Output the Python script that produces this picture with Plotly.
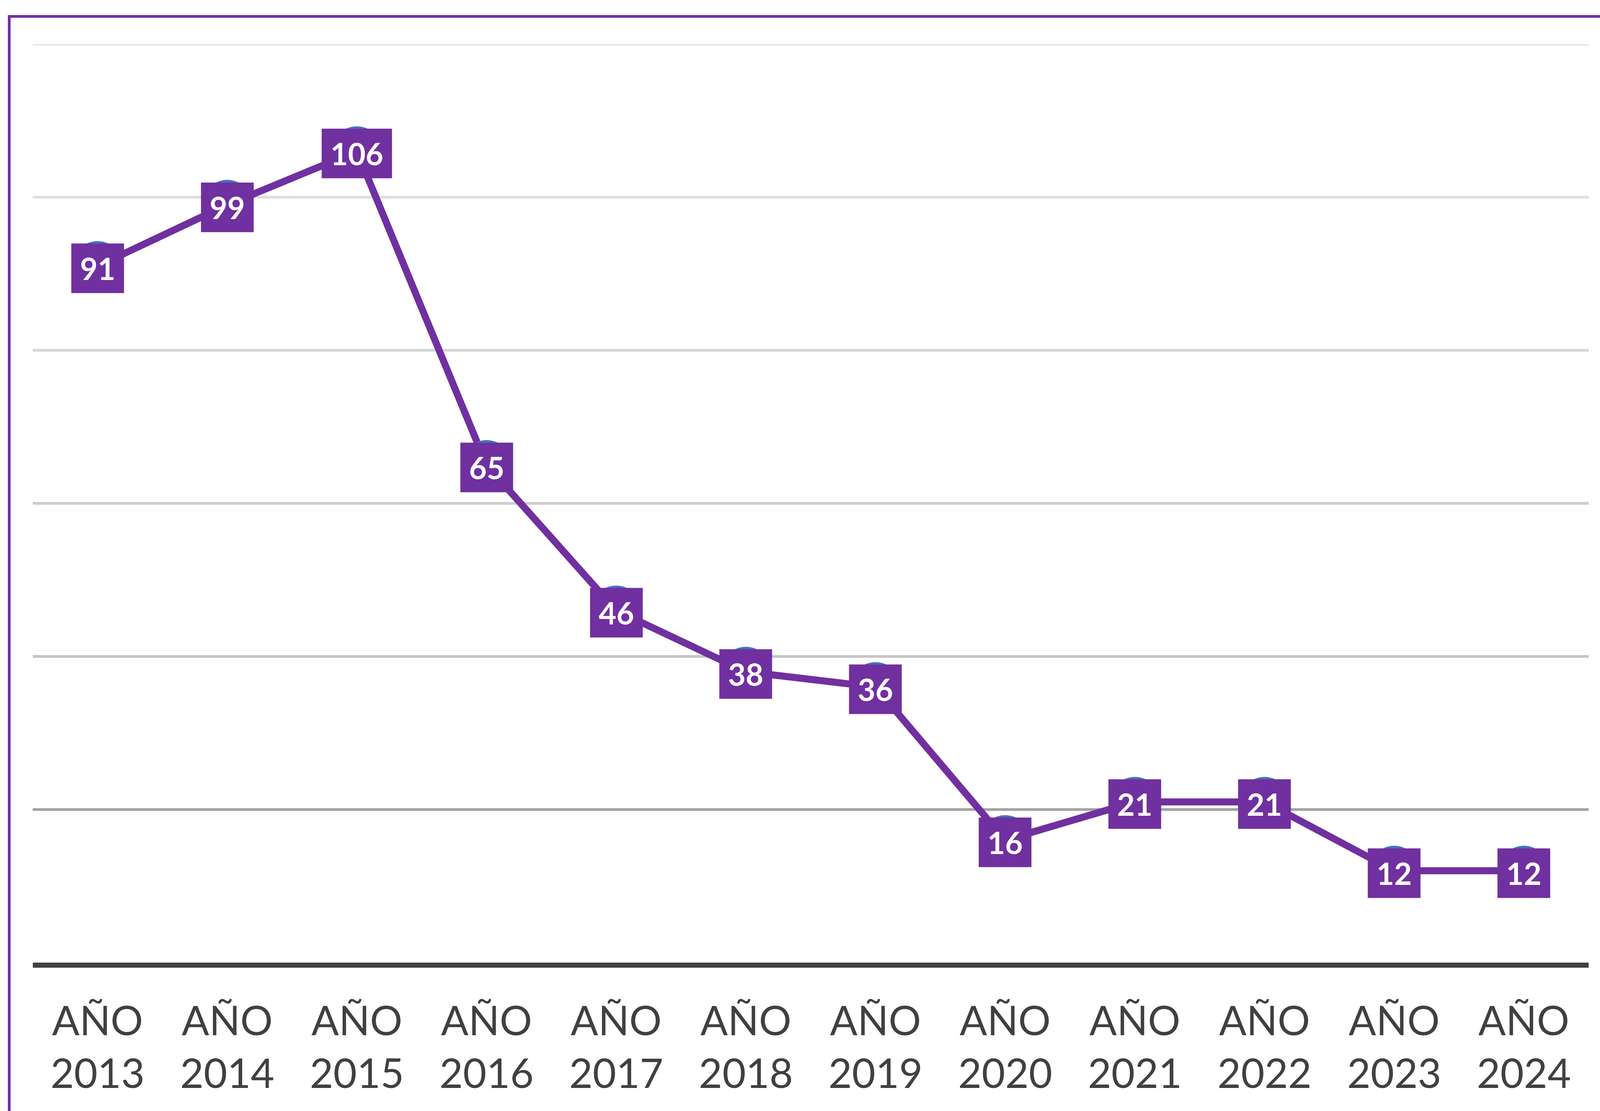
import plotly.graph_objects as go

years = ["2013", "2014", "2015", "2016", "2017", "2018", "2019", "2020", "2021", "2022", "2023", "2024"]
values = [91, 99, 106, 65, 46, 38, 36, 16, 21, 21, 12, 12]
categories = ["AÑO<br>" + y for y in years]
grid_values = [20, 40, 60, 80, 100, 120]
grid_colors = ["#a3a3a3", "#c4c4c4", "#cdcdcd", "#d6d6d6", "#dedede", "#e4e4e4"]

PURPLE = "#7030A0"
REF_W = 5375.0

fig = go.Figure()
fig.add_trace(go.Scatter(
    x=categories, y=values, mode="lines+markers",
    line=dict(color=PURPLE, width=18),
    marker=dict(color="#4472C4", size=128, symbol="circle"),
    hoverinfo="skip", showlegend=False,
))

for gv, gc in zip(grid_values, grid_colors):
    fig.add_shape(type="line", xref="x domain", yref="y", x0=0, x1=1, y0=gv, y1=gv,
                  line=dict(color=gc, width=7), layer="below")

for c, v in zip(categories, values):
    n = len(str(v))
    fig.add_annotation(x=c, y=v, text="<b>" + str(v) + "</b>", showarrow=False,
                       bgcolor=PURPLE, borderpad=22, width=45 * n, height=82,
                       yshift=-6,
                       font=dict(family="Lato", size=78, color="white"))

# outer purple frame (chart border, cropped at right and bottom)
fig.add_shape(type="rect", xref="paper", yref="paper",
              x0=31 / REF_W, x1=1.2, y0=-0.5, y1=1.0302,
              line=dict(color=PURPLE, width=7), fillcolor="rgba(0,0,0,0)", layer="below")

fig.update_layout(
    autosize=True,
    margin=dict(l=0, r=0, t=113, b=380),
    paper_bgcolor="white", plot_bgcolor="white",
    xaxis=dict(type="category", domain=[110 / REF_W, 5337 / REF_W],
               range=[-0.5, 11.5], showgrid=False, zeroline=False,
               showline=True, linecolor="#404040", linewidth=13,
               ticks="", ticklabelstandoff=48,
               tickfont=dict(family="Lato", size=104, color="#404040")),
    yaxis=dict(range=[0, 120], showgrid=False, zeroline=False,
               showticklabels=False, ticks="", showline=False),
)

fig.write_html("out.html", default_width="100vw", default_height="100vh",
               config={"responsive": True, "displayModeBar": False},
               post_script="document.body.style.margin='0';document.body.style.overflow='hidden';Plotly.Plots.resize(document.getElementById('{plot_id}'));")
